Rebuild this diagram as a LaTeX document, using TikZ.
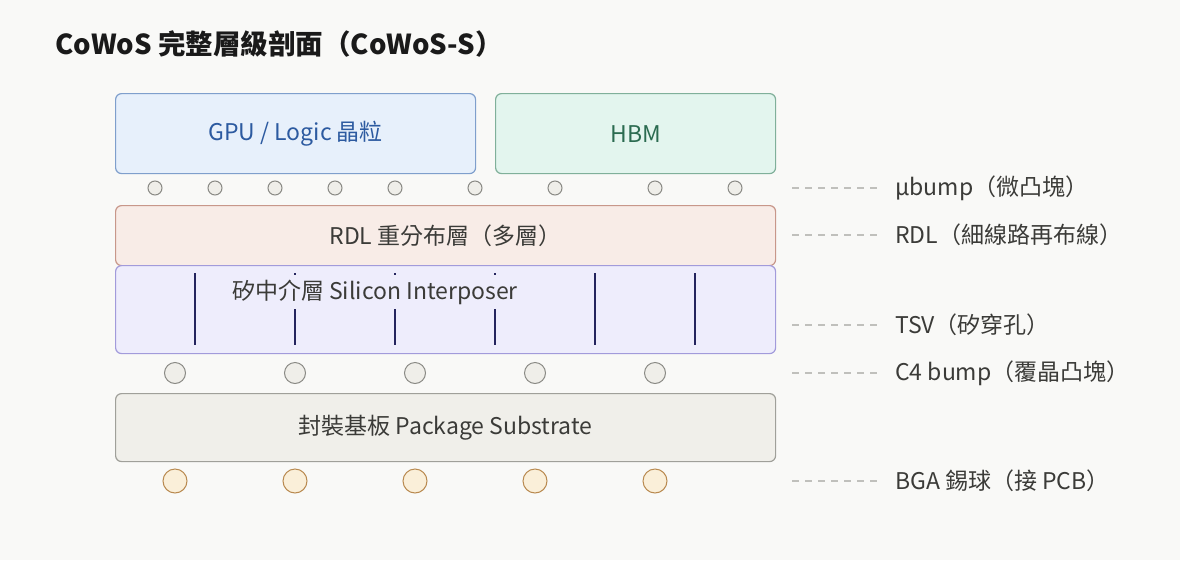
\documentclass[tikz,border=0pt]{standalone}
\usepackage{fontspec}
\setmainfont{Noto Sans CJK TC}
\usepackage{xcolor}

\definecolor{bgcol}{HTML}{F9F9F7}
\definecolor{inkcol}{HTML}{3B3B38}
\definecolor{titlecol}{HTML}{1A1A1A}
\definecolor{gpufill}{HTML}{E7F0FB}
\definecolor{gpuline}{HTML}{7F9FCC}
\definecolor{gputext}{HTML}{2C5AA0}
\definecolor{hbmfill}{HTML}{E3F5EE}
\definecolor{hbmline}{HTML}{80B09A}
\definecolor{hbmtext}{HTML}{2B6B50}
\definecolor{rdlfill}{HTML}{F8ECE7}
\definecolor{rdlline}{HTML}{C8978A}
\definecolor{intfill}{HTML}{EEEDFC}
\definecolor{intline}{HTML}{A29BDB}
\definecolor{tsvcol}{HTML}{24245E}
\definecolor{subfill}{HTML}{F0EFEA}
\definecolor{subline}{HTML}{A0A09A}
\definecolor{bumpfill}{HTML}{EFEEE9}
\definecolor{bumpline}{HTML}{8A8A85}
\definecolor{bgafill}{HTML}{FAEFD9}
\definecolor{bgaline}{HTML}{B98A50}
\definecolor{leadcol}{HTML}{C0C0BC}

\begin{document}
\begin{tikzpicture}[x=1pt,y=-1pt,
    layer/.style={draw, rounded corners=6pt, line width=1.2pt, inner sep=0pt,
        anchor=north west, text=inkcol, font=\fontsize{23}{27}\selectfont},
    ubump/.style={circle, draw=bumpline, fill=bumpfill, line width=1pt,
        minimum size=14pt, inner sep=0pt},
    cfour/.style={ubump, minimum size=21pt},
    bgaball/.style={circle, draw=bgaline, fill=bgafill, line width=1pt,
        minimum size=24pt, inner sep=0pt},
    tsv/.style={draw=tsvcol, line width=2pt},
    sidelabel/.style={anchor=west, inner sep=6pt, text=inkcol,
        font=\fontsize{23}{27}\selectfont},
    leader/.style={draw=leadcol, line width=1.2pt, dash pattern=on 7pt off 6pt}]

    % Background and page size
    \fill[bgcol] (0,0) rectangle (1180,560);
    \useasboundingbox (0,0) rectangle (1180,560);

    % Title
    \node[anchor=base west, inner sep=0pt, text=titlecol,
        font=\fontsize{27.5}{32}\selectfont\bfseries] (title) at (55,54)
        {CoWoS 完整層級剖面（CoWoS-S）};

    % Dies on top
    \node[layer, fill=gpufill, draw=gpuline, text=gputext,
        minimum width=360pt, minimum height=80pt] (gpu) at (115,93) {GPU / Logic 晶粒};
    \node[layer, fill=hbmfill, draw=hbmline, text=hbmtext,
        minimum width=280pt, minimum height=80pt] (hbm) at (495,93) {HBM};

    % Microbumps
    \foreach \x [count=\i] in {155,215,275,335,395,475,555,655,735} {
        \node[ubump] (ub\i) at (\x,188) {};
    }

    % RDL
    \node[layer, fill=rdlfill, draw=rdlline,
        minimum width=660pt, minimum height=60pt] (rdl) at (115,205) {RDL 重分布層（多層）};

    % Silicon interposer
    \node[layer, fill=intfill, draw=intline,
        minimum width=660pt, minimum height=88pt] (interposer) at (115,265) {};

    % TSVs
    \foreach \x in {195,295,...,695} {
        \draw[tsv] (\x,273) -- (\x,345);
    }
    \node[fill=intfill, inner sep=0pt, text=inkcol, minimum width=300pt,
        minimum height=34pt, font=\fontsize{23}{27}\selectfont] (intlabel) at (375,292)
        {矽中介層 Silicon Interposer};

    % C4 bumps
    \foreach \x [count=\i] in {175,295,...,655} {
        \node[cfour] (cb\i) at (\x,373) {};
    }

    % Package substrate
    \node[layer, fill=subfill, draw=subline,
        minimum width=660pt, minimum height=68pt] (substrate) at (115,393) {封裝基板 Package Substrate};

    % BGA balls
    \foreach \x [count=\i] in {175,295,...,655} {
        \node[bgaball] (bga\i) at (\x,481) {};
    }

    % Side labels
    \foreach \y/\name/\txt in {188/lbub/{µbump（微凸塊）},
                               235/lbrdl/{RDL（細線路再布線）},
                               325/lbtsv/{TSV（矽穿孔）},
                               373/lbcf/{C4 bump（覆晶凸塊）},
                               481/lbbga/{BGA 錫球（接 PCB）}} {
        \coordinate (\name-a) at (792,\y);
        \node[sidelabel] (\name) at (889,\y) {\txt};
        \draw[leader, shorten >=7pt] (\name-a) -- (\name.west);
    }
\end{tikzpicture}
\end{document}
